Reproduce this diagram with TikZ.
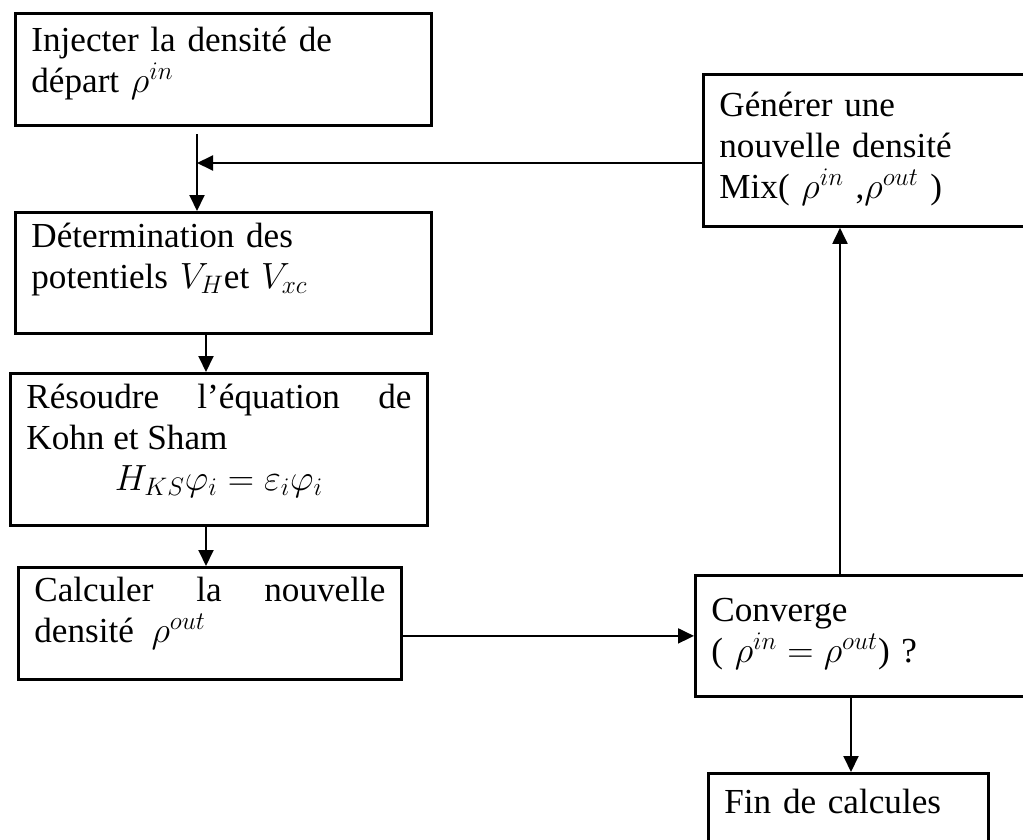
\documentclass[tikz,border=0pt]{standalone}
\usepackage{fontspec}
\setmainfont{Liberation Serif}
\usetikzlibrary{arrows.meta, positioning, calc}
\tikzset{
  etape/.style={draw, line width=1.6pt, anchor=north west, inner xsep=0.32cm, inner ysep=0pt, align=left, font=\fontsize{20pt}{23.3pt}\selectfont},
  etapej/.style={etape, align=justify},
  fleche/.style={-{Triangle[length=0.32cm, width=0.3cm]}, line width=1.1pt}
}
\begin{document}
\begin{tikzpicture}
\useasboundingbox (0,0) rectangle (20.46,-16.8);
\clip (0,0) rectangle (20.46,-16.8);
% colonne de gauche
\node[etape, text width=7.68cm, text height=0.76cm, text depth=1.48cm] (inj) at (0.28,-0.24)
  {Injecter la densité de\\départ $\rho^{in}$};
\node[etape, text width=7.68cm, text height=0.70cm, text depth=1.72cm] (det) at (0.28,-4.22)
  {Détermination des\\potentiels $V_H$et $V_{xc}$};
\node[etapej, text width=7.70cm, text height=0.70cm, text depth=2.34cm] (res) at (0.18,-7.44)
  {Résoudre l'équation de\linebreak Kohn et Sham\\
   \makebox[\hsize][c]{$H_{KS}\varphi_i=\varepsilon_i\varphi_i$}};
\node[etapej, text width=7.02cm, text height=0.68cm, text depth=1.56cm] (calc) at (0.34,-11.32)
  {Calculer la nouvelle\linebreak densité\ \ $\rho^{out}$};
% colonne de droite
\node[etape, text width=6.16cm, text height=0.84cm, text depth=2.20cm] (gen) at (14.04,-1.46)
  {Générer une\\nouvelle densité\\Mix( $\rho^{in}$ ,$\rho^{out}$ )};
\node[etape, text width=6.16cm, text height=0.92cm, text depth=1.50cm] (conv) at (13.88,-11.48)
  {Converge\\( $\rho^{in}=\rho^{out}$) ?};
\node[etape, text width=4.96cm, text height=0.80cm, text depth=2.20cm] (fin) at (14.14,-15.44)
  {Fin de calcules};
% points de passage
\coordinate (depart) at (3.94,-2.68);
\coordinate (jonction) at (3.94,-3.26);
\coordinate (axe) at (4.12,0);
\coordinate (retour) at (16.80,0);
\coordinate (sortie) at (17.02,0);
% connecteurs
\draw[fleche] (depart) -- (depart |- det.north);
\draw[fleche] (jonction -| gen.west) -- (jonction);
\draw[fleche] (det.south -| axe) -- (res.north -| axe);
\draw[fleche] (res.south -| axe) -- (calc.north -| axe);
\draw[fleche] (calc.east |- conv.west) -- (conv.west);
\draw[fleche] (conv.north -| retour) -- (gen.south -| retour);
\draw[fleche] (conv.south -| sortie) -- (fin.north -| sortie);
\end{tikzpicture}
\end{document}
